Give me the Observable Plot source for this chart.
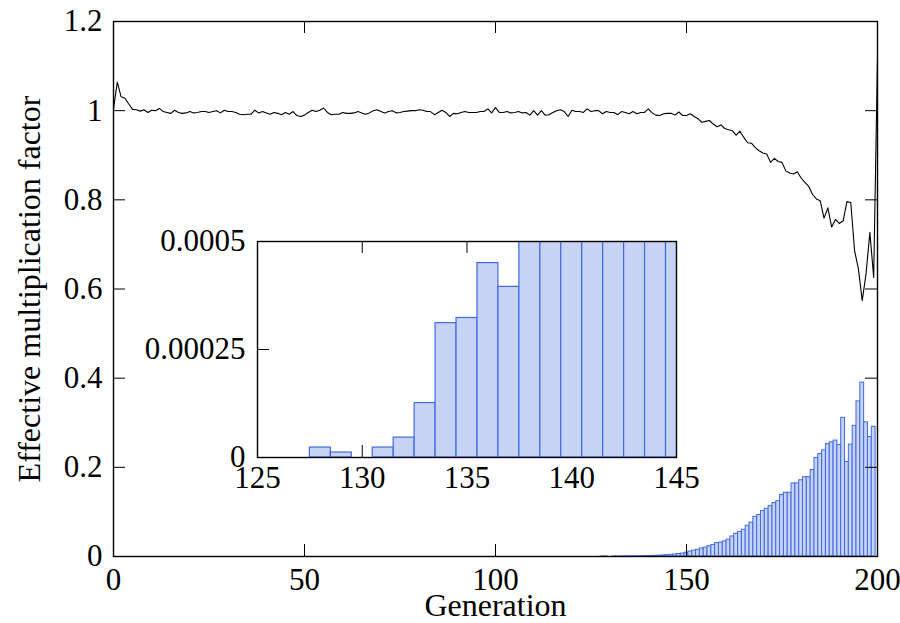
<!DOCTYPE html>
<html><head><meta charset="utf-8">
<script src="https://cdn.jsdelivr.net/npm/d3@7"></script>
<script src="https://cdn.jsdelivr.net/npm/@observablehq/plot@0.6"></script>
<style>
body{margin:0;background:#fff}
#wrap{position:relative;width:900px;height:623px;overflow:hidden;background:#fff}
#wrap svg{position:absolute;overflow:visible}
#wrap svg, #wrap svg text{font-family:"Liberation Serif","Times New Roman",serif !important}
</style></head><body><div id="wrap"></div>
<script>
// Effective multiplication factor per generation (generation = index, 0..200)
const keff = [
1.004,1.064,1.031,1.028,1.015,1.003,1.002,0.999,1.002,0.996,
1.001,1.000,1.005,0.998,0.996,0.994,1.001,0.996,0.994,0.995,
0.998,0.995,0.996,0.998,0.998,0.996,0.998,1.000,0.995,1.001,
0.998,0.998,0.996,0.992,0.991,0.992,0.992,1.001,0.995,0.998,
0.995,0.992,0.996,0.994,0.991,0.996,0.992,0.998,0.989,0.987,
0.990,0.996,1.001,0.998,1.001,1.006,0.996,0.991,0.992,0.992,
0.996,0.994,0.994,0.995,0.998,0.995,0.992,0.995,1.000,1.002,
0.998,0.995,0.998,1.000,0.995,0.996,0.998,0.999,1.000,1.000,
1.002,1.001,0.998,0.998,0.991,0.996,1.001,0.996,0.987,0.994,
0.993,0.996,0.998,0.996,0.996,0.996,0.998,0.998,1.004,0.995,
1.007,0.996,0.996,0.998,0.995,0.996,0.998,0.995,0.996,0.990,
1.000,0.990,1.000,0.990,0.991,0.996,1.000,1.002,0.998,0.987,
1.001,0.998,0.998,0.996,1.004,0.998,1.000,1.000,0.993,0.998,
0.996,0.996,0.991,0.998,0.996,0.993,0.998,0.993,0.996,0.996,
1.004,0.995,0.990,0.989,0.993,0.994,0.994,0.990,0.997,0.989,
0.989,0.993,0.987,0.982,0.974,0.976,0.978,0.970,0.964,0.968,
0.960,0.957,0.955,0.945,0.954,0.940,0.928,0.927,0.917,0.910,
0.905,0.903,0.884,0.893,0.886,0.884,0.865,0.860,0.858,0.863,
0.849,0.839,0.830,0.812,0.802,0.798,0.759,0.782,0.739,0.756,
0.747,0.753,0.796,0.794,0.686,0.645,0.574,0.634,0.727,0.626,
1.120
];
// Histogram: first generation with a bar, then one value per generation
const histStart = 128;
const histValues = [
0.000023,0.0000115,0,0.000023,0.000046,0.000126,0.000311,0.000323,0.00045,0.000395,
0.00055,0.0007,0.0009,0.0012,0.0015,0.0019,0.0024,0.003,0.0037,0.0045,
0.0055,0.0065,0.0085,0.011,0.013,0.015,0.018,0.020,0.023,0.026,
0.030,0.031,0.034,0.038,0.045,0.051,0.055,0.060,0.069,0.076,
0.089,0.093,0.102,0.107,0.113,0.120,0.124,0.138,0.143,0.143,
0.164,0.164,0.171,0.178,0.178,0.194,0.221,0.230,0.238,0.252,
0.256,0.260,0.250,0.311,0.212,0.251,0.293,0.348,0.390,0.301,
0.268,0.291
];
const xTicks = [0,50,100,150,200];
const yTicks = [0,0.2,0.4,0.6,0.8,1,1.2];
const insetXTicks = [125,130,135,140,145];
const insetYTicks = [0,0.00025,0.0005];
const xLabel = "Generation";
const yLabel = "Effective multiplication factor";

const lineData = keff.map((k,i)=>({gen:i,k}));
const histData = histValues.map((v,i)=>({gen:histStart+i,v})).filter(d=>d.v>0);

const FONT = "Liberation Serif";
const FS = 31, FSL = 32;
const FILL = "#c6d3f4", STROKE = "#4169e1";
const TICK = 12;
const wrap = document.getElementById("wrap");
const txt = {fontFamily:FONT,fontSize:FS,fill:"#000"};
const lab = {fontFamily:FONT,fontSize:FSL,fill:"#000"};

// ---- main chart
const W=900,H=623,mL=113,mR=23,mT=21,mB=67;
const pW=W-mL-mR, pH=H-mT-mB;
const main = Plot.plot({
  width:W,height:H,marginLeft:mL,marginRight:mR,marginTop:mT,marginBottom:mB,
  style:`font-family:${FONT};font-size:${FS}px;color:#000;background:transparent`,
  x:{domain:[0,200]}, y:{domain:[0,1.2]},
  marks:[
    Plot.rect(histData,{x1:d=>d.gen-0.5,x2:d=>d.gen+0.5,y1:0,y2:"v",fill:FILL,stroke:STROKE,strokeWidth:1,clip:true}),
    Plot.line(lineData,{x:"gen",y:"k",stroke:"#000",strokeWidth:1.1}),
    Plot.tickX(xTicks,{x:d=>d,insetTop:pH-TICK,stroke:"#000"}),
    Plot.tickX(xTicks,{x:d=>d,insetBottom:pH-TICK,stroke:"#000"}),
    Plot.tickY(yTicks,{y:d=>d,insetRight:pW-TICK,stroke:"#000"}),
    Plot.tickY(yTicks,{y:d=>d,insetLeft:pW-TICK,stroke:"#000"}),
    Plot.axisX(xTicks,{tickSize:0,tickPadding:11,label:null,tickFormat:d=>String(d),...txt}),
    Plot.axisY(yTicks,{tickSize:0,tickPadding:11,label:null,tickFormat:d=>String(d),...txt}),
    Plot.frame({stroke:"#000",strokeWidth:1.4}),
    Plot.text([xLabel],{text:d=>d,frameAnchor:"bottom",textAnchor:"middle",lineAnchor:"middle",dy:49,...lab}),
    Plot.text([yLabel],{text:d=>d,frameAnchor:"left",textAnchor:"middle",lineAnchor:"middle",dx:-84,rotate:-90,...lab})
  ]
});
main.style.left="0px"; main.style.top="0px";
wrap.appendChild(main);

// ---- inset
const iL=140,iR=30,iT=20,iB=45;
const ipW=419, ipH=216;
const inset = Plot.plot({
  width:ipW+iL+iR,height:ipH+iT+iB,marginLeft:iL,marginRight:iR,marginTop:iT,marginBottom:iB,
  style:`font-family:${FONT};font-size:${FS}px;color:#000;background:transparent`,
  x:{domain:[125,145]}, y:{domain:[0,0.0005]},
  marks:[
    Plot.frame({fill:"#fff"}),
    Plot.tickX(insetXTicks,{x:d=>d,insetTop:ipH-TICK,stroke:"#000"}),
    Plot.tickX(insetXTicks,{x:d=>d,insetBottom:ipH-TICK,stroke:"#000"}),
    Plot.tickY(insetYTicks,{y:d=>d,insetRight:ipW-TICK,stroke:"#000"}),
    Plot.tickY(insetYTicks,{y:d=>d,insetLeft:ipW-TICK,stroke:"#000"}),
    Plot.rect(histData,{x1:d=>d.gen-0.5,x2:d=>d.gen+0.5,y1:0,y2:"v",fill:FILL,stroke:STROKE,strokeWidth:1.2,clip:true}),
    Plot.frame({stroke:"#000",strokeWidth:1.4}),
    Plot.axisX(insetXTicks,{tickSize:0,tickPadding:8,label:null,tickFormat:d=>String(d),...txt}),
    Plot.axisY(insetYTicks,{tickSize:0,tickPadding:12,label:null,tickFormat:d=>String(d),...txt})
  ]
});
inset.style.left=(257-iL)+"px"; inset.style.top=(241-iT)+"px";
wrap.appendChild(inset);
</script></body></html>
